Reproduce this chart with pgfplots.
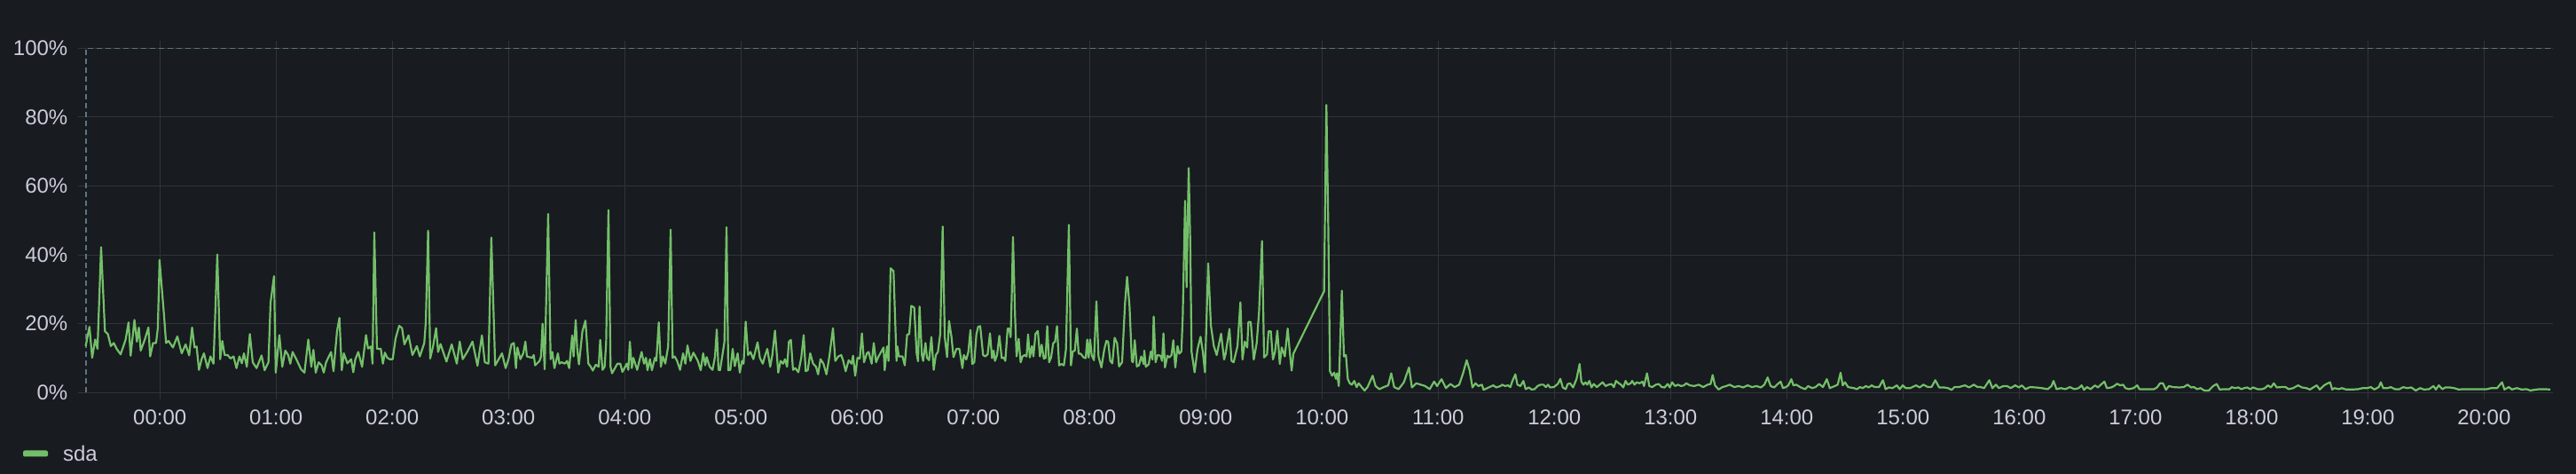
\documentclass[border=0pt]{standalone}
\usepackage{fontspec}
\setmainfont{Liberation Sans}
\usepackage{pgfplots}
\pgfplotsset{compat=1.18}
\definecolor{bgc}{HTML}{181B1F}
\definecolor{gridc}{HTML}{303338}
\definecolor{txtc}{HTML}{CCCCDC}
\definecolor{dashc}{HTML}{5A7684}
\definecolor{sdagreen}{HTML}{73BF69}

% sda utilisation, hours since 00:00, percent
\pgfplotstableread{
h v
-0.639 13.5
-0.606 19.1
-0.583 10.1
-0.557 15.4
-0.537 12.7
-0.506 42.2
-0.473 17.8
-0.448 17.0
-0.422 13.5
-0.397 14.4
-0.372 12.7
-0.338 11.1
-0.295 15.4
-0.270 20.4
-0.252 10.7
-0.219 21.1
-0.198 14.8
-0.181 18.9
-0.165 12.2
-0.130 15.4
-0.099 18.9
-0.084 10.5
-0.059 14.4
-0.033 14.4
-0.018 18.7
-0.003 38.5
0.036 22.2
0.053 14.4
0.074 15.0
0.112 13.1
0.150 16.3
0.188 11.4
0.221 14.0
0.252 10.8
0.277 18.9
0.298 13.1
0.316 13.4
0.336 6.6
0.359 9.7
0.379 11.4
0.410 7.1
0.435 10.5
0.461 8.4
0.494 40.1
0.519 9.7
0.537 15.0
0.557 10.9
0.583 10.9
0.608 9.9
0.634 10.5
0.659 7.1
0.684 10.5
0.705 8.5
0.723 11.4
0.748 7.5
0.774 17.0
0.799 8.8
0.832 7.1
0.875 10.8
0.901 6.5
0.934 8.8
0.952 26.0
0.982 33.8
0.997 5.8
1.028 16.7
1.053 7.5
1.079 12.2
1.104 10.9
1.122 8.4
1.142 11.8
1.181 9.2
1.214 6.8
1.244 5.8
1.277 15.4
1.303 7.5
1.321 12.4
1.341 5.8
1.366 8.8
1.392 7.9
1.410 5.8
1.430 8.8
1.473 11.8
1.494 6.2
1.524 17.8
1.545 21.7
1.565 6.5
1.583 11.4
1.613 8.5
1.646 9.7
1.664 5.9
1.682 9.7
1.707 11.8
1.740 7.5
1.774 16.7
1.791 12.8
1.817 13.4
1.830 8.4
1.845 46.5
1.868 12.7
1.901 12.7
1.919 8.4
1.936 11.6
1.957 10.1
1.977 9.7
2.003 9.7
2.028 15.7
2.059 19.4
2.084 18.7
2.104 14.0
2.140 16.6
2.173 10.9
2.211 13.5
2.237 10.5
2.275 14.4
2.288 20.4
2.308 47.0
2.326 9.9
2.351 13.5
2.377 18.7
2.394 11.8
2.415 14.1
2.466 9.0
2.511 14.0
2.555 8.4
2.580 14.8
2.606 9.7
2.644 11.8
2.690 14.8
2.733 7.8
2.771 16.6
2.796 8.8
2.827 8.4
2.852 45.0
2.885 7.9
2.944 11.4
2.975 7.1
3.000 9.7
3.025 14.0
3.046 14.4
3.064 7.1
3.076 13.1
3.102 9.7
3.127 11.4
3.145 14.8
3.158 10.5
3.204 10.1
3.217 10.9
3.229 7.9
3.267 9.2
3.280 10.5
3.293 20.0
3.311 6.8
3.341 51.9
3.362 9.7
3.377 11.8
3.395 7.1
3.425 11.4
3.438 8.4
3.458 8.8
3.484 8.4
3.504 9.2
3.522 7.1
3.548 16.6
3.560 10.5
3.578 21.1
3.591 12.7
3.606 8.2
3.636 17.8
3.662 20.9
3.687 8.4
3.708 7.5
3.725 6.4
3.751 8.1
3.776 7.5
3.789 15.3
3.809 6.6
3.827 7.5
3.840 14.4
3.860 53.0
3.878 7.5
3.891 5.6
3.937 8.4
3.962 8.4
3.980 6.0
4.018 8.4
4.031 6.6
4.044 14.8
4.061 7.1
4.074 10.1
4.107 6.6
4.145 11.8
4.166 8.4
4.183 10.1
4.196 6.5
4.217 9.7
4.234 6.5
4.260 10.1
4.272 9.2
4.293 20.4
4.311 7.5
4.328 10.5
4.349 8.4
4.374 13.5
4.395 47.3
4.412 10.1
4.430 10.5
4.451 9.2
4.476 6.6
4.502 11.4
4.522 8.4
4.540 13.7
4.565 9.2
4.591 11.6
4.629 9.2
4.654 6.5
4.675 11.4
4.693 7.9
4.705 10.3
4.731 7.5
4.756 6.6
4.777 10.5
4.792 18.3
4.807 6.6
4.820 6.5
4.845 11.8
4.858 14.8
4.876 48.0
4.891 6.5
4.909 6.6
4.929 12.7
4.947 7.7
4.972 11.4
4.990 5.8
5.010 9.2
5.023 8.4
5.041 20.6
5.061 10.9
5.082 11.8
5.107 9.7
5.143 14.6
5.163 10.1
5.188 8.4
5.209 10.9
5.227 12.7
5.252 7.5
5.270 10.9
5.293 18.0
5.321 5.8
5.341 9.2
5.362 8.4
5.379 9.7
5.397 7.5
5.413 14.8
5.430 15.3
5.448 6.6
5.468 7.1
5.494 5.9
5.519 10.1
5.540 16.7
5.557 6.2
5.575 6.5
5.596 11.4
5.621 8.4
5.646 7.5
5.664 5.3
5.685 9.7
5.710 8.4
5.736 5.3
5.761 10.5
5.792 18.7
5.812 9.2
5.838 10.5
5.863 10.9
5.881 9.1
5.901 6.2
5.927 9.4
5.952 8.4
5.965 10.7
5.983 4.9
6.003 10.1
6.023 9.9
6.041 17.2
6.059 8.8
6.084 11.4
6.099 11.8
6.125 8.4
6.143 14.4
6.163 8.8
6.181 10.3
6.206 11.8
6.227 13.1
6.237 6.5
6.257 13.4
6.270 9.2
6.288 36.1
6.313 35.3
6.339 9.2
6.346 13.4
6.359 10.5
6.390 10.5
6.410 7.9
6.430 16.8
6.448 17.0
6.466 25.2
6.491 24.7
6.512 11.4
6.524 9.1
6.537 25.0
6.557 10.9
6.568 9.2
6.588 14.4
6.601 10.1
6.619 9.4
6.639 16.1
6.659 6.6
6.677 10.9
6.695 11.8
6.715 17.0
6.736 48.2
6.754 16.1
6.774 10.3
6.791 20.8
6.812 16.1
6.829 10.3
6.855 12.7
6.880 12.7
6.906 7.1
6.918 10.9
6.939 9.6
6.957 11.8
6.975 18.2
6.990 8.3
7.008 8.8
7.026 16.9
7.041 19.1
7.059 19.3
7.084 10.9
7.102 10.5
7.123 11.1
7.143 17.2
7.161 10.0
7.174 12.2
7.186 9.2
7.204 10.9
7.224 16.5
7.244 10.0
7.262 10.2
7.275 9.2
7.295 18.6
7.308 18.6
7.321 16.1
7.331 28.9
7.341 45.2
7.359 22.1
7.372 10.5
7.390 15.6
7.407 8.8
7.423 10.5
7.441 10.9
7.458 10.5
7.471 16.9
7.486 10.2
7.504 13.5
7.517 10.5
7.535 17.1
7.555 17.9
7.573 10.5
7.588 13.9
7.606 9.9
7.621 10.0
7.636 19.3
7.652 8.8
7.669 10.2
7.687 14.3
7.703 14.8
7.720 19.3
7.738 7.9
7.758 8.3
7.779 7.9
7.797 12.6
7.822 48.7
7.840 7.9
7.855 11.9
7.873 12.2
7.891 18.6
7.906 11.3
7.924 11.3
7.949 10.2
7.967 10.0
7.980 15.4
7.992 10.2
8.005 15.4
8.018 10.9
8.038 9.4
8.059 26.5
8.077 10.5
8.102 7.3
8.127 12.6
8.145 15.0
8.160 14.8
8.178 9.2
8.196 8.5
8.216 15.9
8.237 14.3
8.254 7.6
8.280 8.8
8.305 25.9
8.323 33.6
8.344 25.1
8.364 9.2
8.374 8.8
8.389 15.2
8.407 7.6
8.425 7.9
8.445 10.5
8.466 8.3
8.471 12.2
8.484 7.5
8.509 8.2
8.527 11.9
8.542 9.6
8.552 22.1
8.568 8.8
8.585 10.9
8.611 10.7
8.624 9.2
8.636 17.2
8.649 7.3
8.670 10.7
8.687 10.2
8.705 10.9
8.721 15.2
8.738 7.3
8.757 13.5
8.772 11.3
8.790 11.9
8.802 22.1
8.822 55.7
8.835 30.6
8.853 65.2
8.866 44.4
8.878 11.8
8.904 5.9
8.929 12.6
8.955 16.2
8.975 11.8
8.993 5.9
9.021 37.5
9.044 19.5
9.069 13.6
9.094 10.9
9.132 17.1
9.158 9.6
9.171 11.3
9.204 18.5
9.222 9.2
9.240 8.8
9.273 13.5
9.298 26.2
9.316 9.6
9.336 14.8
9.357 13.1
9.367 20.5
9.387 20.5
9.413 9.6
9.438 14.3
9.458 23.1
9.484 44.0
9.502 10.2
9.527 11.1
9.540 17.8
9.560 17.8
9.578 9.6
9.596 11.8
9.616 18.0
9.637 8.3
9.654 13.1
9.680 10.5
9.705 18.6
9.723 11.8
9.739 6.4
9.754 11.3
10.018 29.4
10.038 83.5
10.054 48.7
10.069 6.2
10.087 4.9
10.105 5.8
10.120 4.0
10.130 5.6
10.145 1.9
10.171 29.6
10.189 10.5
10.206 10.9
10.222 4.0
10.239 2.7
10.257 2.3
10.278 3.4
10.298 1.6
10.316 2.7
10.341 1.6
10.367 0.6
10.392 1.6
10.436 4.9
10.461 1.9
10.494 1.0
10.532 1.6
10.570 2.1
10.596 5.6
10.621 1.6
10.660 1.0
10.705 3.0
10.749 7.3
10.774 1.5
10.812 2.7
10.851 2.3
10.888 1.9
10.927 1.0
10.965 3.2
10.990 1.9
11.029 3.9
11.067 1.3
11.105 2.5
11.142 1.6
11.181 2.3
11.214 5.6
11.245 9.4
11.270 6.6
11.295 1.5
11.321 2.7
11.346 1.9
11.376 2.3
11.391 0.8
11.435 1.5
11.474 2.1
11.499 1.5
11.537 1.9
11.550 2.3
11.575 1.9
11.601 2.1
11.621 1.6
11.639 3.4
11.664 5.3
11.682 2.3
11.708 1.9
11.733 3.4
11.753 1.0
11.779 1.5
11.804 0.9
11.830 1.0
11.855 1.9
11.881 2.3
11.906 2.3
11.927 1.6
11.945 2.3
11.963 1.5
11.995 1.6
12.029 2.5
12.051 4.0
12.072 1.5
12.097 1.0
12.115 2.5
12.135 2.7
12.161 1.5
12.191 4.0
12.217 8.3
12.232 3.2
12.250 2.3
12.268 3.0
12.283 2.3
12.301 3.4
12.319 1.5
12.339 2.5
12.365 1.6
12.390 2.3
12.415 3.0
12.441 1.9
12.466 2.3
12.492 2.5
12.512 1.6
12.530 3.4
12.555 2.7
12.573 2.3
12.593 1.5
12.613 3.4
12.631 2.3
12.657 2.7
12.669 3.4
12.690 2.3
12.707 3.0
12.733 2.7
12.758 3.2
12.771 1.9
12.797 5.6
12.817 1.9
12.842 1.6
12.873 2.3
12.898 2.5
12.924 1.6
12.949 1.5
12.975 2.5
12.993 1.5
13.013 3.0
13.038 1.9
13.064 2.3
13.089 1.9
13.115 2.1
13.135 2.7
13.166 2.1
13.204 1.9
13.242 2.3
13.280 1.6
13.319 2.3
13.344 2.5
13.362 5.1
13.382 2.1
13.413 0.9
13.446 1.6
13.479 1.9
13.509 2.3
13.548 1.6
13.586 1.9
13.624 1.5
13.663 2.1
13.701 1.6
13.738 1.9
13.777 1.5
13.807 2.3
13.835 4.4
13.861 1.9
13.891 1.5
13.922 2.5
13.947 3.2
13.967 1.3
13.993 1.6
14.013 2.1
14.039 3.9
14.057 2.1
14.082 2.3
14.120 1.5
14.158 1.0
14.184 1.9
14.217 1.3
14.247 1.6
14.278 2.5
14.311 1.6
14.344 3.9
14.370 1.3
14.413 1.9
14.438 2.3
14.463 5.8
14.481 2.1
14.501 3.0
14.527 1.6
14.578 1.3
14.603 1.0
14.629 1.6
14.654 1.3
14.680 1.9
14.705 1.5
14.731 2.1
14.756 1.6
14.794 1.6
14.827 3.6
14.850 1.0
14.878 1.5
14.909 1.3
14.947 2.1
14.972 1.0
14.998 2.1
15.023 1.3
15.062 1.3
15.112 2.1
15.143 1.5
15.176 2.3
15.214 1.6
15.245 1.6
15.278 3.6
15.311 1.5
15.354 1.5
15.387 1.3
15.418 0.8
15.443 1.6
15.481 1.6
15.532 2.1
15.570 1.5
15.609 2.3
15.642 1.6
15.667 1.6
15.698 1.3
15.743 3.6
15.769 1.3
15.800 2.3
15.825 1.3
15.863 1.9
15.896 1.9
15.927 1.3
15.965 2.1
15.998 1.5
16.023 2.1
16.054 1.0
16.092 1.6
16.143 1.5
16.194 1.3
16.245 1.0
16.278 1.9
16.295 3.4
16.321 1.0
16.359 1.3
16.397 1.0
16.436 1.6
16.474 1.0
16.512 1.3
16.537 2.1
16.558 0.8
16.583 1.6
16.614 1.0
16.652 2.1
16.677 1.5
16.703 2.3
16.733 3.2
16.754 1.3
16.792 1.5
16.817 1.9
16.843 2.6
16.868 2.1
16.894 2.3
16.914 1.3
16.944 1.0
16.983 1.3
17.016 2.1
17.034 1.0
17.097 1.0
17.161 1.0
17.186 1.5
17.212 2.7
17.237 2.7
17.263 0.8
17.288 1.9
17.326 1.6
17.377 1.5
17.415 1.6
17.448 2.3
17.479 1.5
17.504 1.6
17.530 1.0
17.560 1.3
17.593 0.6
17.631 0.6
17.669 1.9
17.700 2.5
17.725 0.9
17.771 1.0
17.809 1.0
17.830 1.6
17.855 1.3
17.886 1.5
17.911 1.0
17.936 1.3
17.962 1.5
17.987 1.0
18.013 1.5
18.051 1.0
18.089 1.0
18.115 1.3
18.140 2.1
18.166 1.5
18.191 2.7
18.216 1.5
18.255 1.6
18.293 1.6
18.318 1.0
18.357 1.3
18.400 2.1
18.433 1.5
18.471 1.3
18.502 0.9
18.535 1.6
18.560 2.1
18.586 0.9
18.624 2.1
18.649 2.6
18.675 3.0
18.693 0.9
18.713 1.3
18.751 1.0
18.776 1.3
18.814 0.9
18.865 0.9
18.916 1.0
18.954 1.3
18.993 1.3
19.026 1.6
19.056 0.9
19.094 1.6
19.112 3.0
19.132 1.3
19.171 1.3
19.196 1.6
19.234 1.0
19.272 1.0
19.305 1.6
19.336 1.3
19.374 1.5
19.412 0.6
19.450 1.3
19.483 0.9
19.527 1.0
19.565 1.9
19.585 0.9
19.611 2.1
19.641 1.0
19.667 1.5
19.705 1.5
19.743 1.3
19.781 0.9
19.819 1.0
19.870 1.0
19.921 1.0
19.972 1.0
20.023 1.0
20.061 1.3
20.112 1.3
20.155 3.0
20.175 0.9
20.214 1.6
20.239 0.9
20.282 1.3
20.323 0.9
20.366 1.0
20.399 0.6
20.430 0.8
20.476 1.0
20.519 1.0
20.570 0.9
}\sdadata

\begin{document}
\begin{tikzpicture}
\fill[bgc] (0,0) rectangle (1452pt,267pt);
\path[use as bounding box] (0,0) rectangle (1452pt,267pt);
\begin{axis}[
  at={(44.15pt,45.85pt)}, anchor=south west, scale only axis,
  width=1395pt, height=194pt,
  xmin=-0.702, xmax=20.595, ymin=0, ymax=100,
  axis line style={draw=none},
  xtick={0,1,...,20},
  xticklabels={00:00,01:00,02:00,03:00,04:00,05:00,06:00,07:00,08:00,09:00,10:00,11:00,12:00,13:00,14:00,15:00,16:00,17:00,18:00,19:00,20:00},
  ytick={0,20,40,60,80,100},
  yticklabels={0\%,20\%,40\%,60\%,80\%,100\%},
  /pgf/number format/assume math mode=true,
  grid=major, major grid style={gridc, line width=0.5pt},
  tick align=outside, major tick length=4pt,
  xtick style={gridc, line width=0.5pt}, ytick style={draw=none},
  tick label style={font=\fontsize{12pt}{14pt}\selectfont, text=txtc, inner sep=0pt},
  xticklabel style={anchor=base, yshift=-14pt},
  yticklabel style={anchor=east, xshift=-1.8pt},
]
\addplot[dashc, line width=0.85pt, dash pattern=on 3pt off 2pt, forget plot]
  coordinates {(-0.638,0) (-0.638,100) (20.595,100)};
\addplot[sdagreen, line width=1.1pt, line join=round] table[x=h, y=v] {\sdadata};
\end{axis}
\fill[sdagreen, rounded corners=1pt] (13pt,9.75pt) rectangle (27pt,13.25pt);
\node[anchor=base west, inner sep=0pt, text=txtc, font=\fontsize{12pt}{14pt}\selectfont] at (35.35pt,7.35pt) {sda};
\end{tikzpicture}
\end{document}
